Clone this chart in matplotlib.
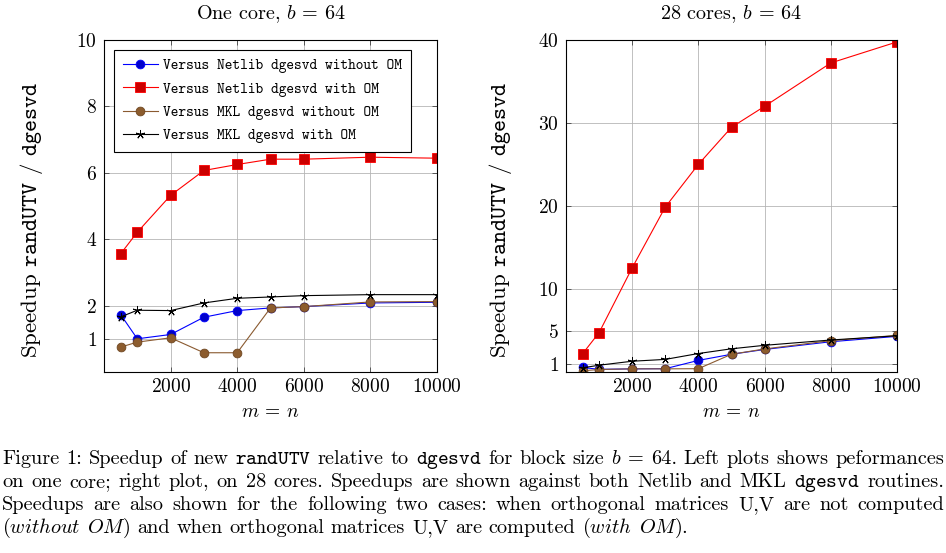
import matplotlib
matplotlib.use("Agg")
import matplotlib.pyplot as plt
from matplotlib.transforms import IdentityTransform

plt.rcParams['font.family'] = ['cmr10']
plt.rcParams['mathtext.fontset'] = 'cm'
plt.rcParams['axes.formatter.use_mathtext'] = True
plt.rcParams['axes.unicode_minus'] = False

# ---------------- data ----------------
sizes = [500, 1000, 2000, 3000, 4000, 5000, 6000, 8000, 10000]

# one core
one_netlib_wo = [1.73, 1.00, 1.13, 1.65, 1.85, 1.93, 1.97, 2.08, 2.10]
one_netlib_w = [3.56, 4.21, 5.32, 6.07, 6.25, 6.41, 6.41, 6.47, 6.44]
one_mkl_wo = [0.75, 0.90, 1.03, 0.58, 0.58, 1.93, 1.97, 2.11, 2.12]
one_mkl_w = [1.66, 1.86, 1.85, 2.08, 2.22, 2.26, 2.30, 2.33, 2.33]

# 28 cores
p28_netlib_wo = [0.55, 0.32, 0.38, 0.40, 1.40, 2.14, 2.72, 3.65, 4.30]
p28_netlib_w = [2.20, 4.75, 12.57, 19.90, 25.05, 29.52, 32.05, 37.28, 39.82]
p28_mkl_wo = [0.15, 0.30, 0.38, 0.38, 0.40, 2.14, 2.78, 3.78, 4.42]
p28_mkl_w = [0.50, 0.82, 1.30, 1.52, 2.23, 2.80, 3.22, 3.86, 4.37]

labels = ["Versus Netlib dgesvd without OM",
          "Versus Netlib dgesvd with OM",
          "Versus MKL dgesvd without OM",
          "Versus MKL dgesvd with OM"]

xticks = [2000, 4000, 6000, 8000, 10000]
yticks_one = [1, 2, 4, 6, 8, 10]
yticks_28 = [1, 5, 10, 20, 30, 40]

titles = [r"One core, $b$ = 64", r"28 cores, $b$ = 64"]
xlabel = r"$m$ = $n$"
ylabel = r"Speedup $\mathtt{randUTV}$ / $\mathtt{dgesvd}$"

caption_lines = [
    r"Figure 1: Speedup of new $\mathtt{randUTV}$ relative to $\mathtt{dgesvd}$ for block size $b$ = 64. Left plots shows peformances",
    r"on one core; right plot, on 28 cores. Speedups are shown against both Netlib and MKL $\mathtt{dgesvd}$ routines.",
    r"Speedups are also shown for the following two cases: when orthogonal matrices U,V are not computed",
    r"($\mathit{without}$ $\mathit{OM}$) and when orthogonal matrices U,V are computed ($\mathit{with}$ $\mathit{OM}$).",
]

# ---------------- styles ----------------
styles = [
    dict(color='#0000FF', marker='o', markersize=6.3, markerfacecolor='#0000CC',
         markeredgecolor='#0000FF', markeredgewidth=0.6),
    dict(color='#FF0000', marker='s', markersize=6.5, markerfacecolor='#CC0000',
         markeredgecolor='#FF0000', markeredgewidth=0.6),
    dict(color='#8A5A30', marker='o', markersize=6.3, markerfacecolor='#8C5C2E',
         markeredgecolor='#6E4620', markeredgewidth=0.6),
    dict(color='#000000', marker=(5, 2, 0), markersize=6.5, markerfacecolor='black',
         markeredgecolor='black', markeredgewidth=0.7),
]

W, H = 946, 553
fig = plt.figure(figsize=(W / 100, H / 100), dpi=100)
PX = IdentityTransform()

def px_axes(l, r, t, b):
    return fig.add_axes([l / W, 1 - b / H, (r - l) / W, (b - t) / H])

ax1 = px_axes(104, 437, 40, 372)
ax2 = px_axes(566, 897, 40, 372)

def setup(ax, series, yticks, ylim, title, l, r, ylab_x):
    for s, st, lab in zip(series, styles, labels):
        ax.plot(sizes, s, lw=0.8, label=lab, **st)
    ax.set_xlim(0, 10000)
    ax.set_ylim(*ylim)
    ax.set_xticks(xticks)
    ax.set_xticklabels([f"${v}$" for v in xticks], fontsize=14)
    ax.set_yticks(yticks)
    ax.set_yticklabels([f"${v}$" for v in yticks], fontsize=14)
    ax.grid(True, color='#b5b5b5', lw=0.6)
    ax.set_axisbelow(True)
    ax.tick_params(direction='in', length=3.5, width=0.6, color='#444444',
                   top=True, right=True)
    ax.tick_params(axis='x', pad=4)
    ax.tick_params(axis='y', pad=5)
    for sp in ax.spines.values():
        sp.set_linewidth(0.8)
    cx = (l + r) / 2
    fig.text(cx, H - 14, title, fontsize=14.5, ha='center', va='center', transform=PX)
    fig.text(cx, H - 412, xlabel, fontsize=14, ha='center', va='center', transform=PX)
    fig.text(ylab_x, H - 220, ylabel, fontsize=16.5, ha='center', va='center',
             rotation=90, rotation_mode='anchor', transform=PX)

setup(ax1, [one_netlib_wo, one_netlib_w, one_mkl_wo, one_mkl_w], yticks_one, (0, 10),
      titles[0], 104, 437, 32)
setup(ax2, [p28_netlib_wo, p28_netlib_w, p28_mkl_wo, p28_mkl_w], yticks_28, (0, 40.05),
      titles[1], 566, 897, 501)

leg = ax1.legend(loc='upper left', bbox_to_anchor=(0.03, 0.97), borderaxespad=0,
                 prop={'family': 'cmtt10', 'size': 10.6}, fancybox=False,
                 edgecolor='black', framealpha=1, numpoints=1,
                 handlelength=2.4, handletextpad=0.35, labelspacing=0.62,
                 borderpad=0.6)
leg.get_frame().set_linewidth(0.8)

# ---------------- justified caption ----------------
renderer = fig.canvas.get_renderer()
x0, x1 = 2, 944
baselines = [464, 487, 510, 533]
cap_fs = 14.6

def split_tokens(line):
    toks, cur, inmath = [], "", False
    for ch in line:
        if ch == '$':
            inmath = not inmath
            cur += ch
        elif ch == ' ' and not inmath:
            if cur:
                toks.append(cur)
            cur = ""
        else:
            cur += ch
    if cur:
        toks.append(cur)
    return toks

space_w = 0.333 * cap_fs * 100 / 72

for i, (line, bl) in enumerate(zip(caption_lines, baselines)):
    toks = split_tokens(line)
    texts = [fig.text(0, H - bl, t, fontsize=cap_fs, va='baseline', ha='left',
                      transform=PX) for t in toks]
    widths = [t.get_window_extent(renderer).width for t in texts]
    last = (i == len(caption_lines) - 1)
    if last or len(toks) < 2:
        gap = space_w
    else:
        gap = (x1 - x0 - sum(widths)) / (len(toks) - 1)
    x = x0
    for t, w in zip(texts, widths):
        t.set_position((x, H - bl))
        x += w + gap

fig.savefig("out.png", dpi=100)
